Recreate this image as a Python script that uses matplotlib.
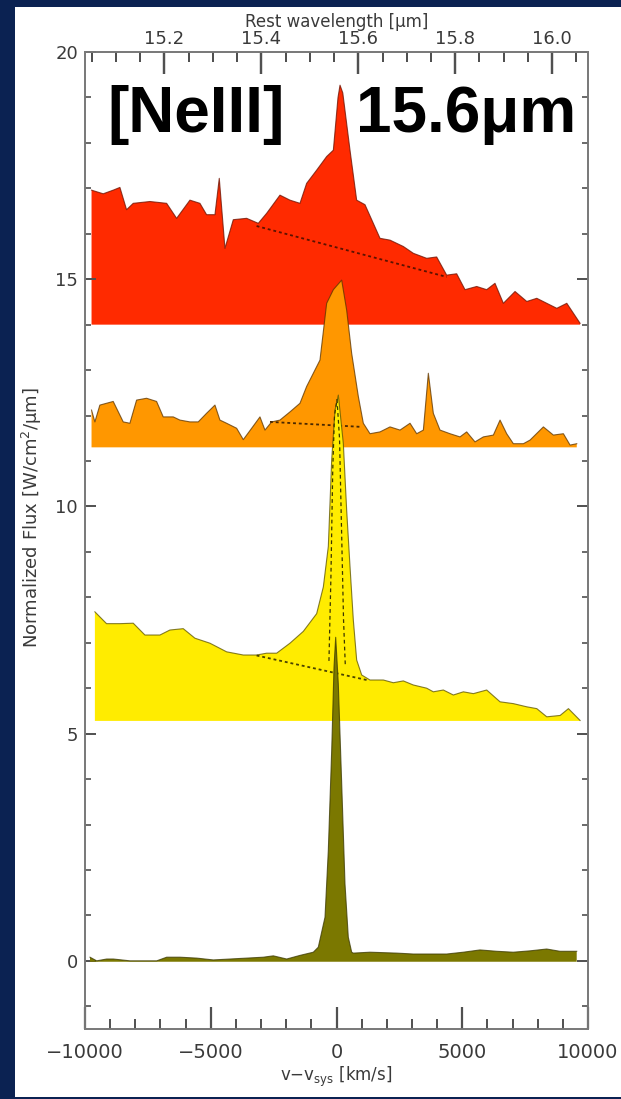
import matplotlib
matplotlib.use('Agg')
import matplotlib.pyplot as plt
from matplotlib.ticker import MultipleLocator, FixedLocator, FormatStrFormatter
from matplotlib.patches import Rectangle
from matplotlib.transforms import blended_transform_factory

# ---------------- data ----------------
red_v = [-9740, -9276, -8878, -8612, -8347, -8082, -7419, -6754, -6357, -5828,
         -5430, -5165, -4833, -4661, -4435, -4104, -3573, -3110, -2778, -2248,
         -1850, -1452, -1187, -789, -391, -125, 60, 140, 250, 537, 802, 1133,
         1464, 1730, 2128, 2658, 3056, 3586, 3983, 4381, 4779, 5110, 5574, 5972,
         6302, 6635, 7099, 7566, 7964, 8361, 8759, 9157, 9686]
red_y = [16.96, 16.88, 16.96, 17.02, 16.53, 16.67, 16.71, 16.67, 16.34, 16.74,
         16.67, 16.42, 16.42, 17.22, 15.68, 16.31, 16.34, 16.23, 16.45, 16.85,
         16.74, 16.67, 17.11, 17.40, 17.70, 17.84, 19.00, 19.27, 19.10, 17.84,
         16.74, 16.64, 16.23, 15.90, 15.86, 15.72, 15.57, 15.46, 15.49, 15.09,
         15.12, 14.77, 14.84, 14.77, 14.91, 14.47, 14.73, 14.51, 14.58, 14.47,
         14.36, 14.47, 14.03]
red_base = 14.0
red_cont_v = [-3177, 4381]
red_cont_y = [16.17, 15.05]

orange_v = [-9740, -9607, -9409, -9143, -8878, -8480, -8215, -7949, -7552, -7154,
            -6889, -6491, -6226, -5828, -5497, -5165, -4833, -4635, -4369, -3971,
            -3706, -3373, -3043, -2844, -2578, -2248, -1850, -1452, -1187, -922,
            -657, -391, -125, 206, 404, 603, 868, 1067, 1332, 1730, 2128, 2526,
            2924, 3189, 3454, 3652, 3850, 4116, 4514, 4911, 5176, 5507, 5839,
            6237, 6503, 6767, 7033, 7430, 7696, 8226, 8624, 9022, 9287, 9553]
orange_y = [12.12, 11.86, 12.23, 12.27, 12.31, 11.86, 11.83, 12.34, 12.38, 12.31,
            11.97, 11.97, 11.90, 11.86, 11.86, 12.05, 12.23, 11.90, 11.83, 11.72,
            11.47, 11.72, 11.97, 11.68, 11.86, 11.90, 12.08, 12.27, 12.64, 12.93,
            13.22, 14.47, 14.77, 14.98, 14.32, 13.37, 12.42, 11.83, 11.60, 11.64,
            11.75, 11.68, 11.83, 11.60, 11.68, 12.93, 12.05, 11.68, 11.60, 11.53,
            11.64, 11.42, 11.53, 11.57, 11.90, 11.60, 11.38, 11.38, 11.46, 11.75,
            11.57, 11.60, 11.35, 11.38]
orange_base = 11.30
orange_cont_v = [-2645, 1002]
orange_cont_y = [11.86, 11.75]

yellow_v = [-9607, -9143, -8612, -8082, -7618, -7021, -6624, -6094, -5630, -5033,
            -4369, -3706, -3177, -2778, -2380, -1850, -1320, -789, -523, -325,
            -192, -59, 73, 272, 404, 537, 669, 802, 1002, 1332, 1862, 2260, 2658,
            3056, 3586, 3850, 4248, 4646, 5044, 5442, 5972, 6503, 7033, 7566,
            7964, 8361, 8892, 9222, 9686]
yellow_y = [7.68, 7.42, 7.42, 7.43, 7.17, 7.17, 7.28, 7.31, 7.10, 6.99,
            6.80, 6.73, 6.73, 6.77, 6.77, 6.99, 7.25, 7.64, 8.23, 9.12,
            11.02, 12.12, 12.45, 11.38, 9.92, 8.68, 7.50, 6.62, 6.29, 6.18, 6.18,
            6.12, 6.16, 6.07, 6.00, 5.92, 5.96, 5.85, 5.92, 5.88, 5.96, 5.70,
            5.66, 5.59, 5.55, 5.37, 5.40, 5.55, 5.29]
yellow_base = 5.28
yellow_cont_v = [-3177, 1200]
yellow_cont_y = [6.72, 6.18]
yellow_fit_v = [-300, -220, -150, -80, 20, 120, 200, 280, 350]
yellow_fit_y = [6.60, 8.50, 10.80, 12.00, 12.35, 11.50, 9.50, 7.50, 6.50]

olive_v = [-9801, -9536, -9137, -8873, -8211, -7547, -7149, -6752, -6223, -5559,
           -4898, -4235, -3571, -2911, -2513, -1980, -1451, -922, -724, -457,
           -326, -191, -99, -32, 72, 207, 338, 469, 604, 668, 1332, 2394, 3054,
           4382, 5042, 5706, 6370, 7029, 7694, 8358, 8887, 9551]
olive_y = [0.08, 0.00, 0.04, 0.04, 0.00, 0.00, 0.00, 0.08, 0.08, 0.06,
           0.02, 0.04, 0.06, 0.08, 0.11, 0.04, 0.12, 0.19, 0.30, 0.96,
           2.42, 4.63, 6.46, 7.12, 6.09, 3.89, 1.69, 0.52, 0.19, 0.17, 0.19,
           0.17, 0.15, 0.15, 0.19, 0.24, 0.21, 0.19, 0.22, 0.26, 0.21, 0.21]
olive_base = -0.02

x_ticks = [-10000, -5000, 0, 5000, 10000]
y_ticks = [0, 5, 10, 15, 20]
top_ticks = [15.2, 15.4, 15.6, 15.8, 16.0]

C_KMS = 299792.458
LAM0 = 15.555

# ---------------- figure ----------------
W, H = 621, 1099
fig = plt.figure(figsize=(W / 100, H / 100), dpi=100)
fig.patch.set_facecolor('#0b2252')
fig.patches.append(Rectangle((15 / W, 2 / H), 1, (H - 9) / H,
                             transform=fig.transFigure, facecolor='white',
                             edgecolor='none', zorder=-10))

AX_H_PX = 977
ax = fig.add_axes([85 / W, 1 - 1029 / H, 503 / W, AX_H_PX / H])
ax.set_zorder(1)
ax.patch.set_alpha(0)
ax.set_axisbelow(False)
XLIM = (-10000, 10000)
ax.set_xlim(*XLIM)
ax.set_ylim(-1.5, 20)

edge_kw = dict(lw=0.8, alpha=0.75)
series = [
    (red_v, red_y, red_base, '#ff2a00', '#6a1000'),
    (orange_v, orange_y, orange_base, '#ff9700', '#5a3300'),
    (yellow_v, yellow_y, yellow_base, '#ffec00', '#5a5200'),
    (olive_v, olive_y, olive_base, '#7b7800', '#3a3800'),
]
for i, (v, y, base, col, ecol) in enumerate(series):
    z = 2 + i
    ax.fill_between(v, base, y, facecolor=col, edgecolor='none', zorder=z)
    ax.plot(v, y, color=ecol, zorder=z + 0.1, **edge_kw)

dot = (0, (1.6, 1.6))
ax.plot(red_cont_v, red_cont_y, ls=dot, color='#5a1200', lw=1.3, zorder=2.5)
ax.plot(orange_cont_v, orange_cont_y, ls=dot, color='#4a2800', lw=1.3, zorder=3.5)
ax.plot(yellow_cont_v, yellow_cont_y, ls=dot, color='#4a4200', lw=1.3, zorder=4.5)
ax.plot(yellow_fit_v, yellow_fit_y, ls=(0, (3, 2.5)), color='#3a3500', lw=0.9, zorder=4.6)

frame_col = '#7a7a7a'
tick_col = '#505050'
text_col = '#3a3a3a'
for s in ax.spines.values():
    s.set_color(frame_col)
    s.set_linewidth(1.3)

ax.xaxis.set_major_locator(FixedLocator(x_ticks))
ax.xaxis.set_minor_locator(MultipleLocator(1000))
ax.yaxis.set_major_locator(FixedLocator(y_ticks))
ax.yaxis.set_minor_locator(MultipleLocator(1))
ax.xaxis.set_ticks_position('bottom')
ax.tick_params(axis='x', which='both', direction='in', bottom=True, top=False,
               color=tick_col, labelcolor=text_col, labelsize=14, pad=10)
ax.tick_params(axis='x', which='major', length=16, width=1.6)
ax.tick_params(axis='x', which='minor', length=7, width=1.4)
ax.tick_params(axis='y', which='both', direction='in', left=True, right=True,
               color=tick_col, labelcolor=text_col, labelsize=13, pad=5)
ax.tick_params(axis='y', which='major', length=8, width=1.4)
ax.tick_params(axis='y', which='minor', length=4, width=1.2)
ax.set_xlabel(r'v$-$v$_{\rm sys}$ [km/s]', fontsize=12, color=text_col, labelpad=2)

def v2l(v):
    return LAM0 * (1 + v / C_KMS)

def l2v(l):
    return (l / LAM0 - 1) * C_KMS

# top axis: rest wavelength (linear in velocity)
top = ax.twiny()
top.set_zorder(2)
top.patch.set_alpha(0)
top.set_xlim(v2l(XLIM[0]), v2l(XLIM[1]))
top.xaxis.set_major_locator(FixedLocator(top_ticks))
top.xaxis.set_minor_locator(MultipleLocator(0.05))
top.xaxis.set_major_formatter(FormatStrFormatter('%.1f'))
top.xaxis.set_ticks_position('top')
top.tick_params(axis='x', which='both', direction='in', top=True, bottom=False,
                color=tick_col, labelcolor=text_col, labelsize=13, pad=3)
top.tick_params(axis='x', which='major', length=16, width=1.6)
top.tick_params(axis='x', which='minor', length=7, width=1.4)
top.tick_params(axis='y', left=False, right=False, labelleft=False, labelright=False)
for s in top.spines.values():
    s.set_color(frame_col)
    s.set_linewidth(1.3)
top.set_xlabel('Rest wavelength [μm]', fontsize=12, color=text_col, labelpad=2)

# make sure the inward wavelength ticks are drawn on the top edge
trans = blended_transform_factory(ax.transData, ax.transAxes)
lo, hi = top.get_xlim()
minor_l = [l for l in MultipleLocator(0.05).tick_values(lo, hi)
           if lo <= l <= hi and all(abs(l - m) > 1e-6 for m in top_ticks)]
maj_len = 16 / 72 * 100 / AX_H_PX
min_len = 7 / 72 * 100 / AX_H_PX
ax.vlines([l2v(l) for l in top_ticks], 1 - maj_len, 1, transform=trans,
          colors=tick_col, lw=1.6, zorder=10, clip_on=False)
ax.vlines([l2v(l) for l in minor_l], 1 - min_len, 1, transform=trans,
          colors=tick_col, lw=1.4, zorder=10, clip_on=False)

fig.text(32 / W, 1 - 518 / H, 'Normalized Flux [W/cm$^2$/μm]', rotation=90,
         fontsize=13, color=text_col, ha='center', va='center')

big = dict(fontsize=46, fontweight='bold', color='black', family='Liberation Sans',
           va='baseline', ha='left', zorder=20)
fig.text(107 / W, 1 - 132 / H, '[NeIII]', **big)
fig.text(356 / W, 1 - 132 / H, '15.6μm', **big)

fig.savefig('out.png', dpi=100, facecolor=fig.get_facecolor())
